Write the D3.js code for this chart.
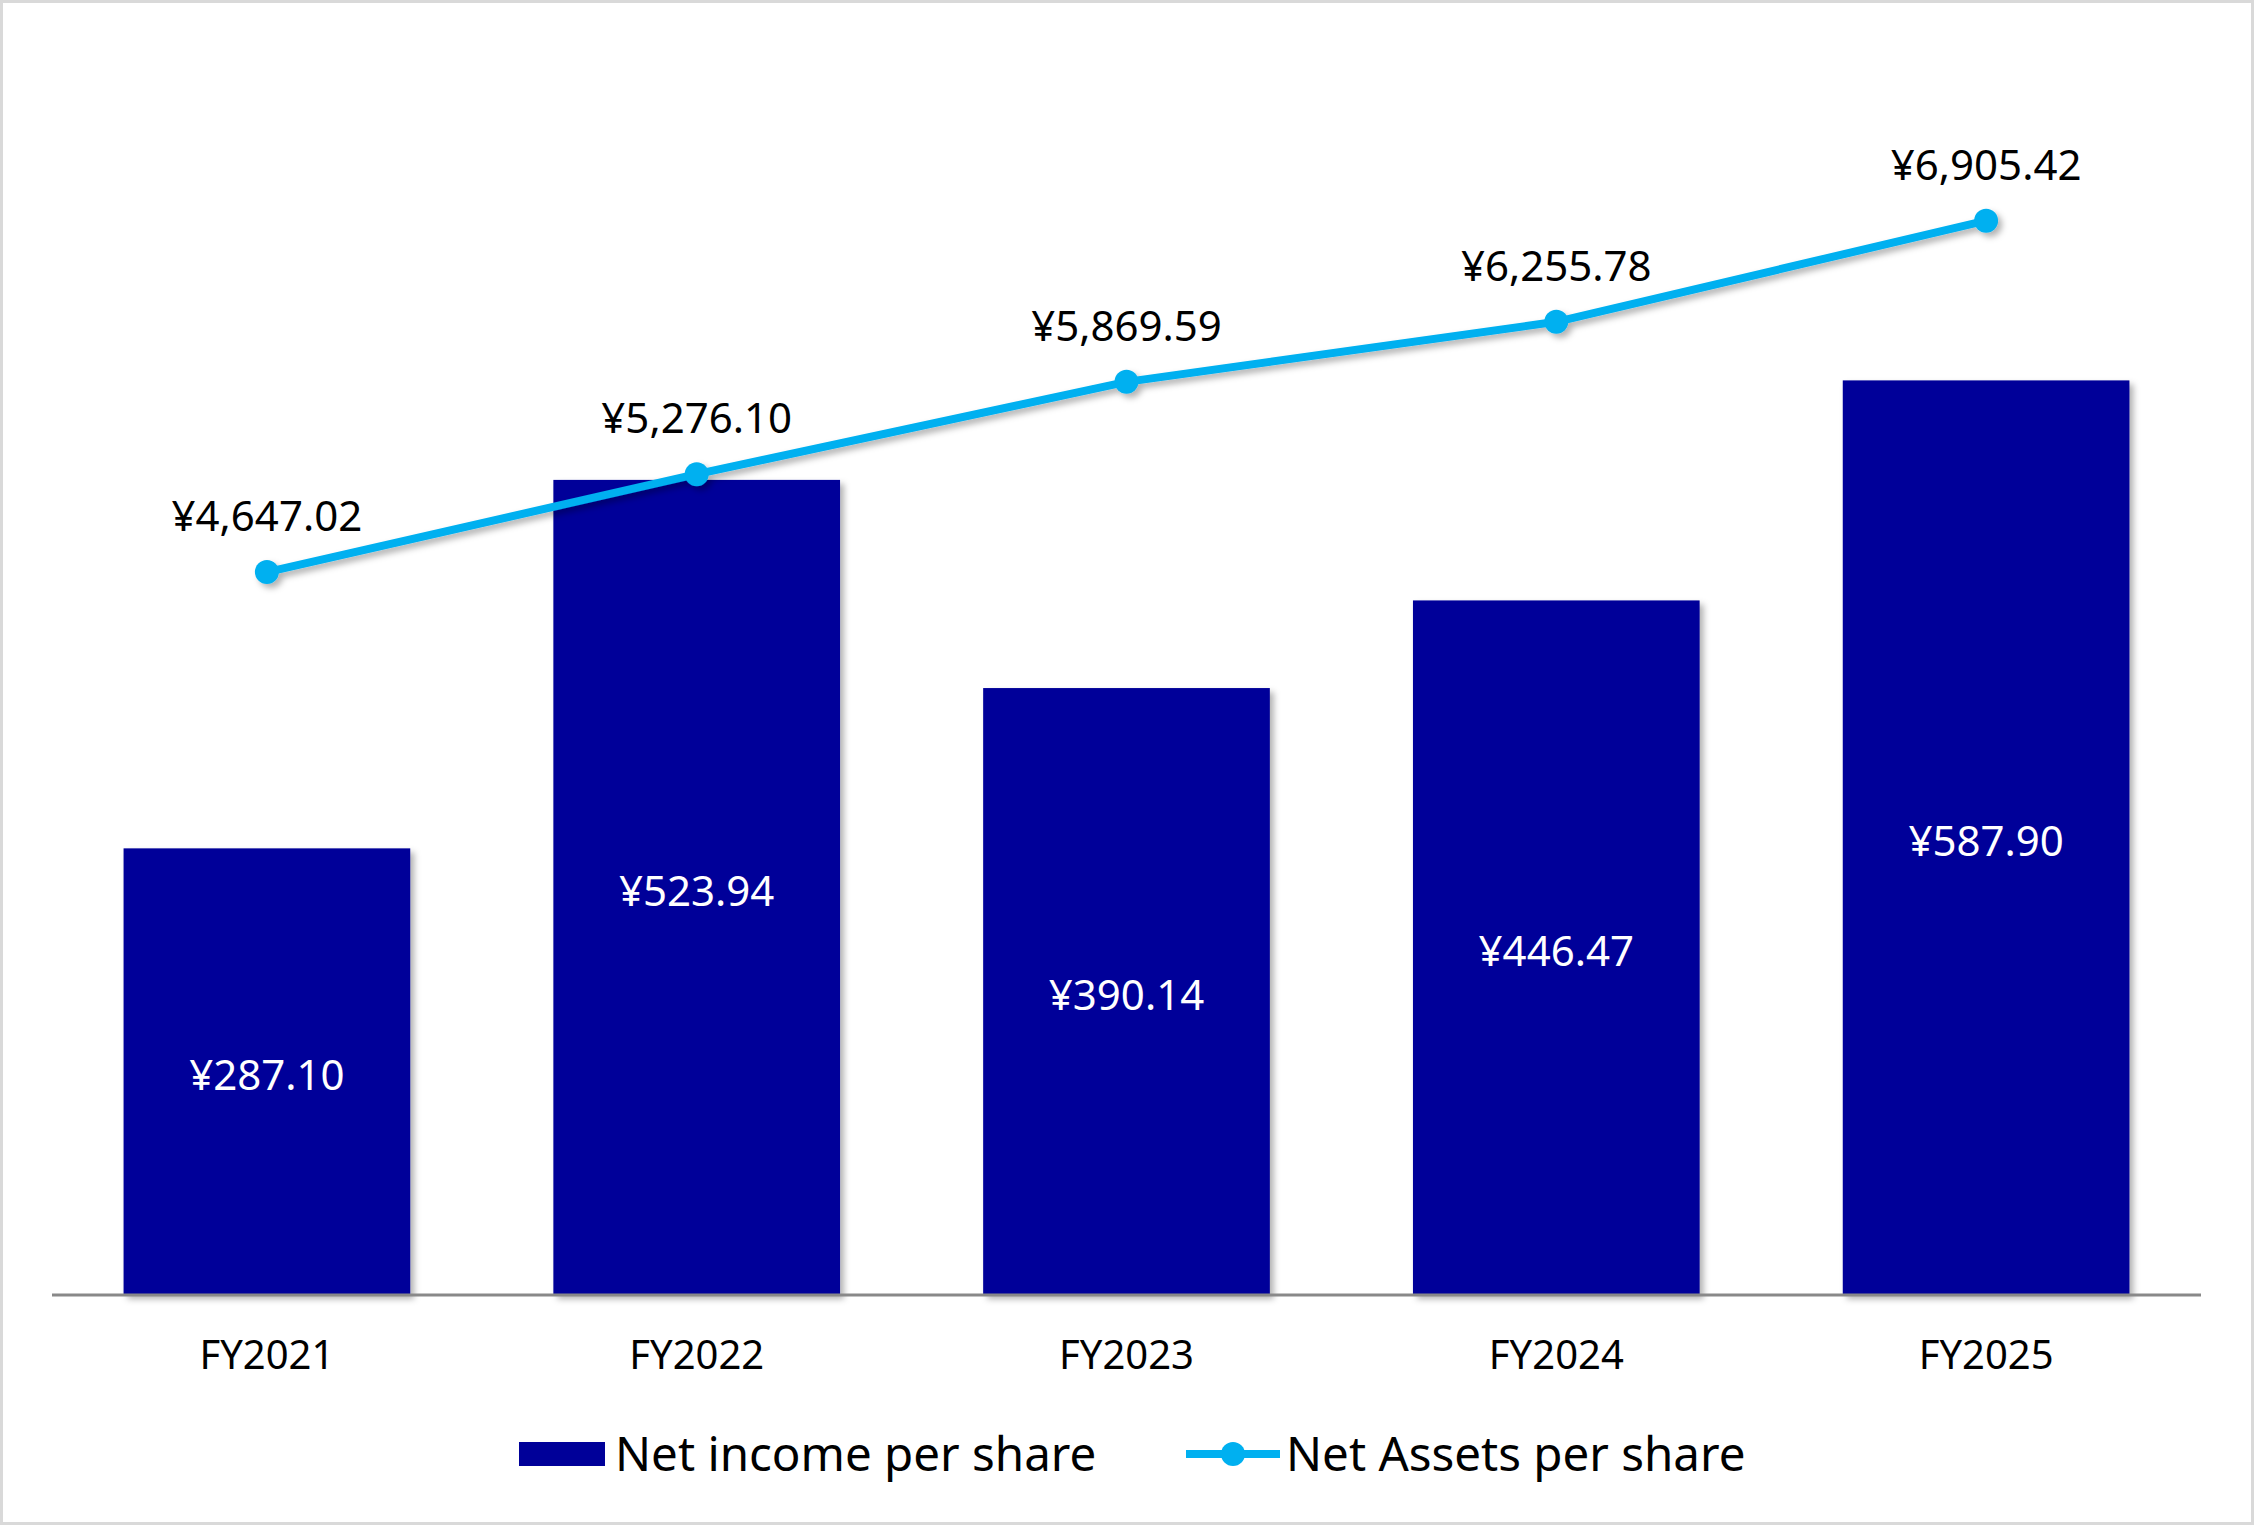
<!DOCTYPE html>
<head>
    <meta charset='utf-8'>
    <style>
        body {
            margin: 0;
            font-family: 'Noto Sans', 'Open Sans', Arial, sans-serif;
            background: #fff;
        }
        #vis {
            width: 2254px;
            height: 1525px;
        }
    </style>
</head>

<body>
<div id='vis'></div>
<script src='https://d3js.org/d3.v7.min.js'></script>
<script>
  // data
  const years = ['FY2021', 'FY2022', 'FY2023', 'FY2024', 'FY2025']
  const netIncome = [287.10, 523.94, 390.14, 446.47, 587.90]
  const netAssets = [4647.02, 5276.10, 5869.59, 6255.78, 6905.42]
  const seriesNames = ['Net income per share', 'Net Assets per share']

  const W = 2254, H = 1525
  const plot = {left: 52, right: 2201, top: 206, bottom: 1295}

  const barColor = '#000099'
  const lineColor = '#00b0f0'

  const fmtYen = d => '¥' + d3.format(',.2f')(d)

  const svg = d3.select('#vis')
    .append('svg')
    .attr('width', W)
    .attr('height', H)

  // drop shadow like the office chart
  const defs = svg.append('defs')
  const f = defs.append('filter')
    .attr('id', 'shadow')
    .attr('x', '-10%').attr('y', '-10%')
    .attr('width', '130%').attr('height', '130%')
  f.append('feDropShadow')
    .attr('dx', 4).attr('dy', 4)
    .attr('stdDeviation', 3)
    .attr('flood-color', '#000')
    .attr('flood-opacity', 0.3)

  // outer frame
  svg.append('rect')
    .attr('x', 1.5).attr('y', 1.5)
    .attr('width', W - 3).attr('height', H - 3)
    .attr('fill', '#fff')
    .attr('stroke', '#d9d9d9')
    .attr('stroke-width', 3)

  // scales
  const x = d3.scaleBand()
    .domain(years)
    .range([plot.left, plot.right])
    .paddingInner(0.333)
    .paddingOuter(0.1665)

  const y = d3.scaleLinear()
    .domain([0, 700])
    .range([plot.bottom, plot.top])

  const y2 = d3.scaleLinear()
    .domain([0, 7000])
    .range([plot.bottom, plot.top])

  // bars
  const bars = svg.append('g').attr('class', 'bars')
  bars.selectAll('rect')
    .data(netIncome)
    .enter()
    .append('rect')
    .attr('x', (d, i) => x(years[i]))
    .attr('y', d => y(d))
    .attr('width', x.bandwidth())
    .attr('height', d => y(0) - y(d))
    .attr('fill', barColor)
    .attr('filter', 'url(#shadow)')

  bars.selectAll('text')
    .data(netIncome)
    .enter()
    .append('text')
    .attr('x', (d, i) => x(years[i]) + x.bandwidth() / 2)
    .attr('y', d => (y(d) + y(0)) / 2 + 4)
    .attr('dy', '0.35em')
    .attr('text-anchor', 'middle')
    .attr('fill', '#fff')
    .attr('font-size', 42)
    .text(fmtYen)

  // category axis
  const axis = svg.append('g')
    .attr('transform', `translate(0, ${plot.bottom})`)
    .call(d3.axisBottom(x).tickSize(0).tickPadding(46))
  axis.select('.domain')
    .attr('d', `M${plot.left},0H${plot.right}`)
    .attr('stroke', '#898989')
    .attr('stroke-width', 3)
  axis.selectAll('text')
    .attr('font-family', "'Noto Sans', sans-serif")
    .attr('font-size', 40)
    .attr('fill', '#000')

  // line series
  const cx = (d, i) => x(years[i]) + x.bandwidth() / 2
  const line = d3.line()
    .x(cx)
    .y(d => y2(d))

  const lineG = svg.append('g').attr('filter', 'url(#shadow)')
  lineG.append('path')
    .datum(netAssets)
    .attr('d', line)
    .attr('fill', 'none')
    .attr('stroke', lineColor)
    .attr('stroke-width', 8)
    .attr('stroke-linejoin', 'round')

  lineG.selectAll('circle')
    .data(netAssets)
    .enter()
    .append('circle')
    .attr('cx', cx)
    .attr('cy', d => y2(d))
    .attr('r', 12)
    .attr('fill', lineColor)

  svg.append('g').selectAll('text')
    .data(netAssets)
    .enter()
    .append('text')
    .attr('x', cx)
    .attr('y', d => y2(d) - 41)
    .attr('text-anchor', 'middle')
    .attr('fill', '#000')
    .attr('font-size', 42)
    .text(fmtYen)

  // legend
  const legend = svg.append('g').attr('transform', 'translate(0, 1454)')
  legend.append('rect')
    .attr('x', 519).attr('y', -12)
    .attr('width', 86).attr('height', 24)
    .attr('fill', barColor)
  legend.append('text')
    .attr('x', 615).attr('dy', '0.35em')
    .attr('font-size', 47.5)
    .attr('fill', '#000')
    .text(seriesNames[0])

  legend.append('line')
    .attr('x1', 1186).attr('x2', 1280)
    .attr('stroke', lineColor)
    .attr('stroke-width', 8)
  legend.append('circle')
    .attr('cx', 1233).attr('r', 12)
    .attr('fill', lineColor)
  legend.append('text')
    .attr('x', 1286).attr('dy', '0.35em')
    .attr('font-size', 47.5)
    .attr('fill', '#000')
    .text(seriesNames[1])
</script>
</body>
